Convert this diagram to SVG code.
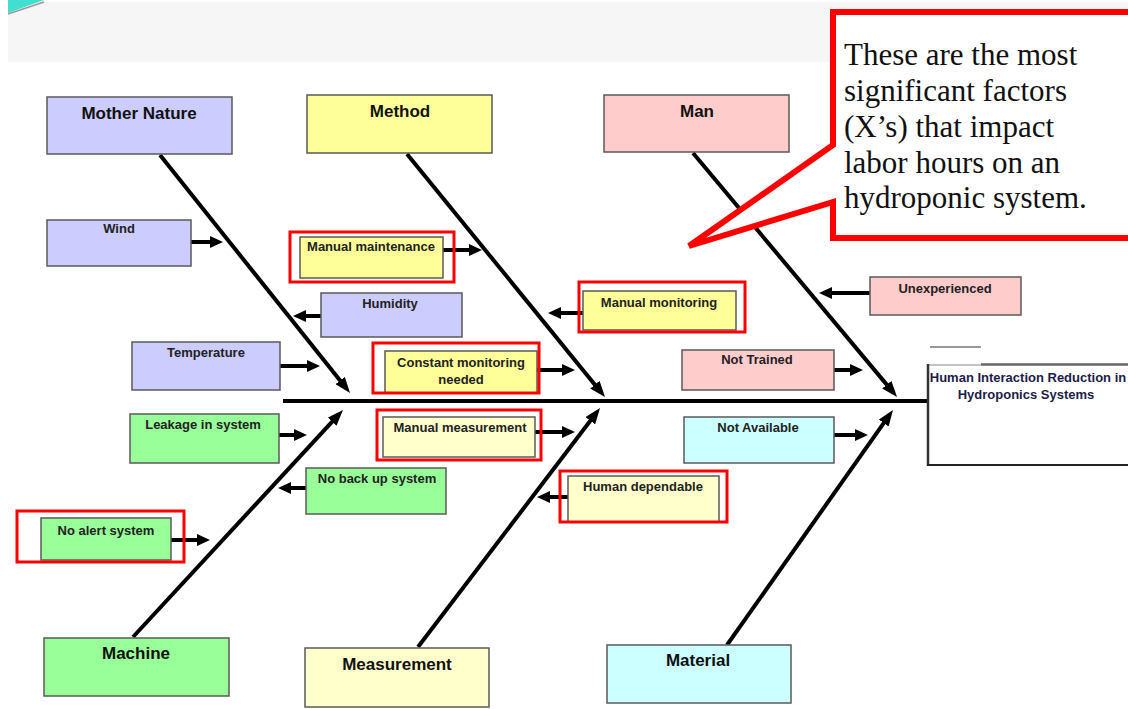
<svg xmlns="http://www.w3.org/2000/svg" width="1128" height="709" viewBox="0 0 1128 709">
<style>
.box{stroke:#5a5a5a;stroke-width:1.5}
.hl{fill:none;stroke:#ff0000;stroke-width:3}
.cat{font-family:"Liberation Sans",Arial,sans-serif;font-weight:bold;font-size:17px;fill:#111;text-anchor:middle}
.lbl{font-family:"Liberation Sans",Arial,sans-serif;font-weight:bold;font-size:13px;fill:#222;text-anchor:middle}
.bone{stroke:#000;stroke-width:4;fill:none;marker-end:url(#bigHead)}
.sub{stroke:#000;stroke-width:4;fill:none;marker-end:url(#smallHead)}
.callout{font-family:"Liberation Serif","Times New Roman",serif;font-size:31px;fill:#111}
.lav{fill:#ccccff}.yel{fill:#ffff99}.pink{fill:#ffcccc}.grn{fill:#99ff99}.cream{fill:#ffffcc}.cyan{fill:#ccffff}
</style>
<defs>
<marker id="bigHead" viewBox="0 0 16 12" refX="10" refY="6" markerWidth="16" markerHeight="12" markerUnits="userSpaceOnUse" orient="auto"><path d="M0,0 L16,6 L0,12 z" fill="#000"/></marker>
<marker id="smallHead" viewBox="0 0 13 12" refX="7" refY="6" markerWidth="13" markerHeight="12" markerUnits="userSpaceOnUse" orient="auto"><path d="M0,0 L13,6 L0,12 z" fill="#000"/></marker>
</defs>
<rect width="1128" height="709" fill="#ffffff"/>
<rect x="8" y="2" width="1120" height="60" fill="#f6f6f6"/>
<polygon points="8,0 44,0 8,13" fill="#40e0d0"/>
<line x1="8" y1="14" x2="44" y2="2" stroke="#999" stroke-width="1.5"/>

<g id="connectors">
<line x1="283" y1="401" x2="928" y2="401" stroke="#000" stroke-width="4"/>
<line class="bone" x1="160" y1="155" x2="346.3" y2="388.3"/>
<line class="bone" x1="407" y1="154" x2="601.2" y2="392.4"/>
<line class="bone" x1="693" y1="153" x2="893.2" y2="392.4"/>
<line class="bone" x1="133" y1="637" x2="338.9" y2="414.4"/>
<line class="bone" x1="418" y1="647" x2="596.4" y2="412.8"/>
<line class="bone" x1="727" y1="645" x2="889.5" y2="414.9"/>
<line class="sub" x1="191" y1="242" x2="217" y2="242"/>
<line class="sub" x1="443" y1="250" x2="476" y2="250"/>
<line class="sub" x1="321" y1="316" x2="299" y2="316"/>
<line class="sub" x1="280" y1="366" x2="314" y2="366"/>
<line class="sub" x1="537" y1="370" x2="569" y2="370"/>
<line class="sub" x1="583" y1="313" x2="554" y2="313"/>
<line class="sub" x1="535" y1="432" x2="569" y2="432"/>
<line class="sub" x1="306" y1="488" x2="284" y2="488"/>
<line class="sub" x1="568" y1="497" x2="543" y2="497"/>
<line class="sub" x1="834" y1="370" x2="857" y2="370"/>
<line class="sub" x1="870" y1="293" x2="825" y2="293"/>
<line class="sub" x1="834" y1="435" x2="862" y2="435"/>
<line class="sub" x1="279" y1="435" x2="301" y2="435"/>
<line class="sub" x1="171" y1="540" x2="204" y2="540"/>
</g>

<g id="mother-nature"><rect class="box lav" x="47" y="97" width="185" height="57"/><text class="cat" x="139" y="119">Mother  Nature</text></g>
<g id="method"><rect class="box yel" x="307" y="95" width="185" height="58"/><text class="cat" x="400" y="117">Method</text></g>
<g id="man"><rect class="box pink" x="604" y="95" width="185" height="57"/><text class="cat" x="697" y="117">Man</text></g>
<g id="machine"><rect class="box grn" x="44" y="638" width="185" height="58"/><text class="cat" x="136" y="659">Machine</text></g>
<g id="measurement"><rect class="box cream" x="305" y="648" width="184" height="59"/><text class="cat" x="397" y="670">Measurement</text></g>
<g id="material"><rect class="box cyan" x="607" y="645" width="184" height="58"/><text class="cat" x="698" y="666">Material</text></g>

<g id="wind"><rect class="box lav" x="47" y="220" width="144" height="46"/><text class="lbl" x="119" y="233">Wind</text></g>
<g id="manual-maintenance"><rect class="box yel" x="300" y="237" width="143" height="41"/><text class="lbl" x="371" y="251">Manual maintenance</text><rect class="hl" x="290" y="232" width="164" height="50"/></g>
<g id="humidity"><rect class="box lav" x="321" y="293" width="141" height="44"/><text class="lbl" x="390" y="308">Humidity</text></g>
<g id="temperature"><rect class="box lav" x="132" y="342" width="148" height="48"/><text class="lbl" x="206" y="357">Temperature</text></g>
<g id="constant-monitoring"><rect class="box yel" x="385" y="351" width="152" height="42"/><text class="lbl" x="461" y="367">Constant monitoring</text><text class="lbl" x="461" y="384">needed</text><rect class="hl" x="373" y="343" width="166" height="50"/></g>
<g id="manual-monitoring"><rect class="box yel" x="583" y="291" width="153" height="39"/><text class="lbl" x="659" y="307">Manual monitoring</text><rect class="hl" x="579" y="282" width="166" height="50"/></g>
<g id="manual-measurement"><rect class="box cream" x="383" y="417" width="152" height="40"/><text class="lbl" x="460" y="432">Manual measurement</text><rect class="hl" x="377" y="410" width="164" height="50"/></g>
<g id="leakage"><rect class="box grn" x="130" y="414" width="149" height="49"/><text class="lbl" x="203" y="429">Leakage in system</text></g>
<g id="no-back-up"><rect class="box grn" x="306" y="468" width="140" height="46"/><text class="lbl" x="377" y="483">No back up system</text></g>
<g id="no-alert"><rect class="box grn" x="41" y="518" width="130" height="42"/><text class="lbl" x="106" y="535">No alert system</text><rect class="hl" x="17" y="511" width="167" height="51"/></g>
<g id="human-dependable"><rect class="box cream" x="568" y="476" width="151" height="46"/><text class="lbl" x="643" y="491">Human dependable</text><rect class="hl" x="560" y="471" width="167" height="51"/></g>
<g id="unexperienced"><rect class="box pink" x="870" y="277" width="151" height="38"/><text class="lbl" x="945" y="293">Unexperienced</text></g>
<g id="not-trained"><rect class="box pink" x="682" y="350" width="152" height="40"/><text class="lbl" x="757" y="364">Not Trained</text></g>
<g id="not-available"><rect class="box cyan" x="684" y="417" width="150" height="46"/><text class="lbl" x="758" y="432">Not Available</text></g>

<g id="head">
<line x1="930" y1="347" x2="981" y2="347" stroke="#777" stroke-width="1.5"/>
<rect x="928" y="365" width="210" height="100" fill="#fff"/>
<line x1="928" y1="365" x2="981" y2="365" stroke="#888" stroke-width="1"/>
<line x1="981" y1="364.5" x2="1128" y2="364.5" stroke="#666" stroke-width="2.5"/>
<line x1="928" y1="364" x2="928" y2="466" stroke="#333" stroke-width="2.5"/>
<line x1="927" y1="465" x2="1128" y2="465" stroke="#222" stroke-width="2"/>
<text x="1028" y="382" font-family="Liberation Sans, Arial, sans-serif" font-weight="bold" font-size="13" fill="#1c1c48" text-anchor="middle">Human Interaction Reduction in</text>
<text x="1026" y="399" font-family="Liberation Sans, Arial, sans-serif" font-weight="bold" font-size="13" fill="#1c1c48" text-anchor="middle">Hydroponics  Systems</text>
</g>

<g id="callout">
<path d="M833,12 L1140,12 L1140,238 L833,238 L833,202 L689,246 L833,145 Z" fill="#fff" stroke="#ff0000" stroke-width="6" stroke-linejoin="miter"/>
<text class="callout" x="844" y="65">These are the most</text>
<text class="callout" x="844" y="101">significant factors</text>
<text class="callout" x="844" y="137">(X’s) that impact</text>
<text class="callout" x="844" y="173">labor hours on an</text>
<text class="callout" x="844" y="208">hydroponic system.</text>
</g>
</svg>
